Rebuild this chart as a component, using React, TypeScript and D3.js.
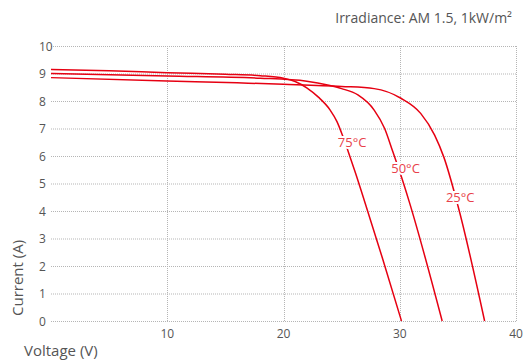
import * as d3 from "d3";
import {useEffect, useRef} from "react";

// I-V curves: [voltage, current]
const curve75 = [[0, 9.15], [5, 9.1], [10, 9.03], [15, 8.97], [18, 8.92], [20, 8.83], [21, 8.71], [22, 8.48], [23, 8.14], [24, 7.68], [24.6, 7.25], [25.1, 6.72], [25.6, 6.12], [26.2, 5.37], [27.1, 4.18], [28.5, 2.3], [30.15, 0]];
const curve50 = [[0, 9.0], [10, 8.91], [18, 8.83], [22, 8.72], [24, 8.56], [25, 8.45], [26.4, 8.22], [27.8, 7.67], [28.7, 7.0], [29.4, 6.16], [30.1, 5.3], [30.8, 4.36], [33.65, 0]];
const curve25 = [[0, 8.85], [10, 8.73], [16, 8.66], [20, 8.61], [25, 8.53], [27.8, 8.45], [30.1, 8.1], [31.8, 7.55], [33.0, 6.76], [33.8, 5.95], [35.0, 4.2], [37.3, 0]];
const curveNames = ["75°C", "50°C", "25°C"];
// label anchors in data units (voltage, current)
const labelPos = [[25.9, 6.5], [30.5, 5.55], [35.2, 4.5]];
const xTicks = [10, 20, 30, 40];
const yTicks = [0, 1, 2, 3, 4, 5, 6, 7, 8, 9, 10];

const W = 525, H = 360;
const margin = {top: 46, right: 9, bottom: 39, left: 51};

const App = () => {
    const svgRef = useRef(null)

    useEffect(() => {
        const svg = d3.select(svgRef.current)
        svg.selectAll("*").remove()
        const font = "'Open Sans', 'Noto Sans', sans-serif"

        const x = d3.scaleLinear().domain([0, 40]).range([margin.left, W - margin.right])
        const y = d3.scaleLinear().domain([0, 10]).range([H - margin.bottom, margin.top])

        // сетка
        const grid = svg.append("g").attr("stroke", "#b5b5b5").attr("stroke-dasharray", "1,1")
        grid.selectAll("line.h").data(yTicks).join("line")
            .attr("x1", x(0)).attr("x2", x(40))
            .attr("y1", d => y(d) + 0.5).attr("y2", d => y(d) + 0.5)
        grid.selectAll("line.v").data(xTicks).join("line")
            .attr("x1", d => Math.round(x(d)) + 0.5).attr("x2", d => Math.round(x(d)) + 0.5)
            .attr("y1", y(10)).attr("y2", y(0))

        // подписи осей
        svg.append("g").selectAll("text").data(yTicks).join("text")
            .attr("x", 39).attr("y", d => y(d) + 4.5)
            .attr("font-family", font).attr("font-size", 12).attr("fill", "#555")
            .text(d => d)
        svg.append("g").selectAll("text").data(xTicks).join("text")
            .attr("x", d => x(d)).attr("y", 338).attr("text-anchor", "middle")
            .attr("font-family", font).attr("font-size", 12).attr("fill", "#555")
            .text(d => d)

        // кривые
        const line = d3.line().x(d => x(d[0])).y(d => y(d[1])).curve(d3.curveMonotoneX)
        svg.append("g").selectAll("path").data([curve75, curve50, curve25]).join("path")
            .attr("d", d => line(d))
            .attr("fill", "none").attr("stroke", "#e60012").attr("stroke-width", 1.5)

        svg.append("g").selectAll("text").data(curveNames).join("text")
            .attr("x", (d, i) => x(labelPos[i][0])).attr("y", (d, i) => y(labelPos[i][1]) + 5)
            .attr("text-anchor", "middle")
            .attr("font-family", font).attr("font-size", 13).attr("fill", "#e8404a")
            .attr("stroke", "#fff").attr("stroke-width", 4).attr("paint-order", "stroke")
            .text(d => d)

        svg.append("text").attr("x", W - 13).attr("y", 23).attr("text-anchor", "end")
            .attr("font-family", font).attr("font-size", 14).attr("fill", "#555")
            .text("Irradiance: AM 1.5, 1kW/m²")
        svg.append("text").attr("x", 24).attr("y", 356)
            .attr("font-family", font).attr("font-size", 15).attr("fill", "#555")
            .text("Voltage (V)")
        svg.append("text").attr("transform", "translate(23,316) rotate(-90)")
            .attr("font-family", font).attr("font-size", 15).attr("fill", "#555")
            .text("Current (A)")
    }, []);

    return <svg ref={svgRef} width={W} height={H}
                style={{position: "absolute", left: 0, top: 0, background: "#fff"}}/>
}

export default App
